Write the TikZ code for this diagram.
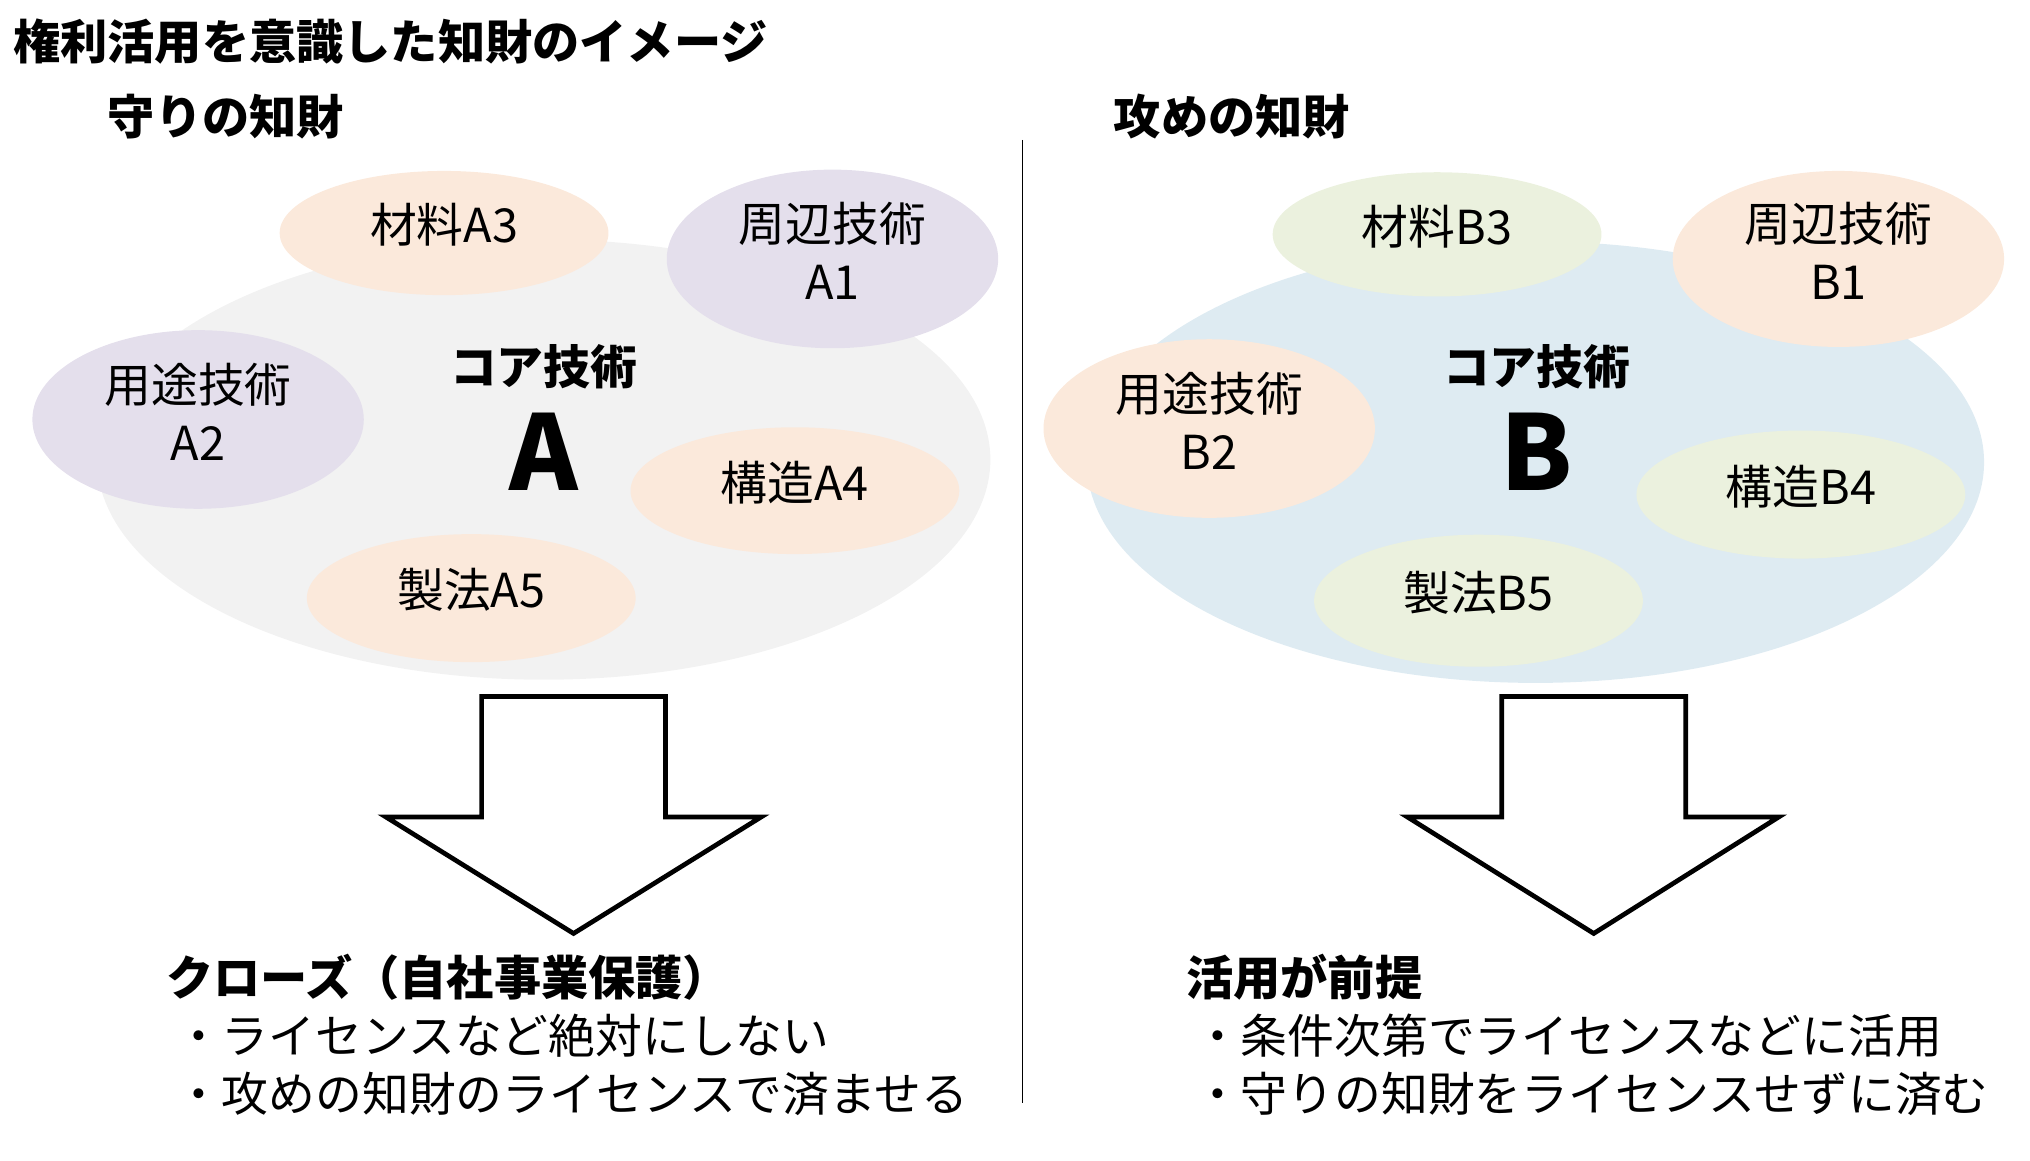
\documentclass[tikz,border=0pt]{standalone}
\usepackage{fontspec}
\setmainfont{Noto Sans CJK JP}
\usetikzlibrary{shapes.geometric}
\definecolor{bigA}{HTML}{F2F2F2}
\definecolor{bigB}{HTML}{DEEBF2}
\definecolor{peach}{HTML}{FBE9DB}
\definecolor{lav}{HTML}{E4DFEC}
\definecolor{olive}{HTML}{EBF1DE}
\begin{document}
\begin{tikzpicture}[x=0.6473pt,y=-0.6473pt,
  ov/.style={ellipse, draw=none, inner sep=0pt},
  ovt/.style={inner sep=0pt, align=center, yshift=4pt,
    font=\fontsize{23.4pt}{29pt}\selectfont},
  hd/.style={font=\fontsize{23.6pt}{29pt}\selectfont\bfseries, inner sep=0pt, anchor=west},
  body/.style={font=\fontsize{23.4pt}{29pt}\selectfont, inner sep=0pt, anchor=west},
  core/.style={font=\fontsize{23.4pt}{29pt}\selectfont\bfseries, inner sep=0pt},
  big/.style={font=\fontsize{52pt}{60pt}\selectfont\bfseries, inner sep=0pt},
  blockarrow/.style={draw=black, fill=white, line width=2.35pt, line join=miter}
]
\useasboundingbox (0,0) rectangle (1568,896);

% titles
\node[hd] (title) at (10,32) {権利活用を意識した知財のイメージ};
\node[hd] (defT) at (83,90) {守りの知財};
\node[hd] (offT) at (860,90) {攻めの知財};

% divider
\draw[line width=0.7pt] (790,108) -- (790,852);

% left group
\node[ov, fill=bigA, minimum width=446.6pt, minimum height=220.1pt] (coreA) at (420,355) {};
\node[ov, fill=peach, minimum width=164.4pt, minimum height=62.1pt] (a3) at (343,180) {};
\node[ovt] (a3t) at (a3.center) {材料A3};
\node[ov, fill=lav, minimum width=165.7pt, minimum height=89.3pt] (a1) at (643,200) {};
\node[ovt] (a1t) at (a1.center) {周辺技術\\A1};
\node[ov, fill=lav, minimum width=165.7pt, minimum height=89.3pt] (a2) at (153,324) {};
\node[ovt] (a2t) at (a2.center) {用途技術\\A2};
\node[ov, fill=peach, minimum width=164.4pt, minimum height=63.4pt] (a4) at (614,379) {};
\node[ovt] (a4t) at (a4.center) {構造A4};
\node[ov, fill=peach, minimum width=164.4pt, minimum height=64pt] (a5) at (364,462) {};
\node[ovt] (a5t) at (a5.center) {製法A5};
\node[core] (coreAt) at (420,283) {コア技術};
\node[big] (coreAl) at (420,349) {A};

% right group
\node[ov, fill=bigB, minimum width=448.6pt, minimum height=220.7pt] (coreB) at (1186,357) {};
\node[ov, fill=olive, minimum width=164.4pt, minimum height=62.1pt] (b3) at (1110,181) {};
\node[ovt] (b3t) at (b3.center) {材料B3};
\node[ov, fill=peach, minimum width=165.7pt, minimum height=88pt] (b1) at (1420,200) {};
\node[ovt] (b1t) at (b1.center) {周辺技術\\B1};
\node[ov, fill=peach, minimum width=165.7pt, minimum height=89.3pt] (b2) at (934,331) {};
\node[ovt] (b2t) at (b2.center) {用途技術\\B2};
\node[ov, fill=olive, minimum width=164.4pt, minimum height=64pt] (b4) at (1391,382) {};
\node[ovt] (b4t) at (b4.center) {構造B4};
\node[ov, fill=olive, minimum width=164.4pt, minimum height=66pt] (b5) at (1142,464) {};
\node[ovt] (b5t) at (b5.center) {製法B5};
\node[core] (coreBt) at (1187,283) {コア技術};
\node[big] (coreBl) at (1187,349) {B};

% block arrows
\draw[blockarrow] (372,538) -- (514,538) -- (514,631) -- (588,631) -- (443,721)
  -- (298,631) -- (372,631) -- cycle;
\draw[blockarrow] (1160,538) -- (1302,538) -- (1302,631) -- (1374,631) -- (1231,721)
  -- (1087,631) -- (1160,631) -- cycle;

% bottom texts
\node[hd] (closeH) at (128,755) {クローズ（自社事業保護）};
\node[body] (close1) at (135,800) {・ライセンスなど絶対にしない};
\node[body] (close2) at (135,845) {・攻めの知財のライセンスで済ませる};
\node[hd] (openH) at (916,755) {活用が前提};
\node[body] (open1) at (922,800) {・条件次第でライセンスなどに活用};
\node[body] (open2) at (922,845) {・守りの知財をライセンスせずに済む};
\end{tikzpicture}
\end{document}
